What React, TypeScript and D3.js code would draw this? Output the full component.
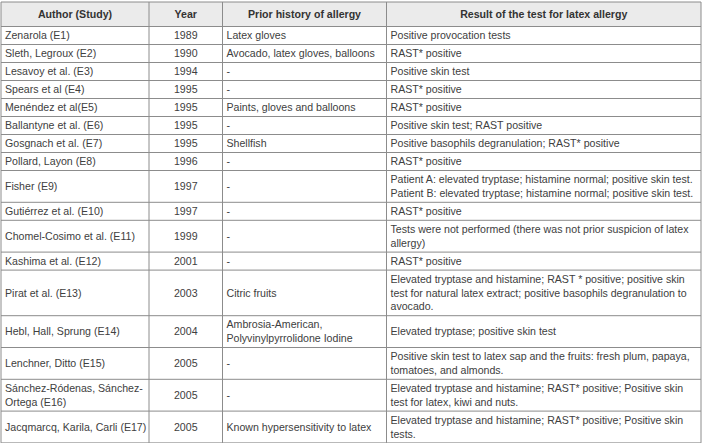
import React from "react";
import * as d3 from "d3";

const headers = ["Author (Study)", "Year", "Prior history of allergy", "Result of the test for latex allergy"];

const authors: string[][] = [
  ["Zenarola (E1)"],
  ["Sleth, Legroux (E2)"],
  ["Lesavoy et al. (E3)"],
  ["Spears et al (E4)"],
  ["Menéndez et al(E5)"],
  ["Ballantyne et al. (E6)"],
  ["Gosgnach et al. (E7)"],
  ["Pollard, Layon (E8)"],
  ["Fisher (E9)"],
  ["Gutiérrez et al. (E10)"],
  ["Chomel-Cosimo et al. (E11)"],
  ["Kashima et al. (E12)"],
  ["Pirat et al. (E13)"],
  ["Hebl, Hall, Sprung (E14)"],
  ["Lenchner, Ditto (E15)"],
  ["Sánchez-Ródenas, Sánchez-", "Ortega (E16)"],
  ["Jacqmarcq, Karila, Carli (E17)"],
];

const years = ["1989", "1990", "1994", "1995", "1995", "1995", "1995", "1996", "1997", "1997", "1999", "2001", "2003", "2004", "2005", "2005", "2005"];

const priorHistory: string[][] = [
  ["Latex gloves"],
  ["Avocado, latex gloves, balloons"],
  ["-"],
  ["-"],
  ["Paints, gloves and balloons"],
  ["-"],
  ["Shellfish"],
  ["-"],
  ["-"],
  ["-"],
  ["-"],
  ["-"],
  ["Citric fruits"],
  ["Ambrosia-American,", "Polyvinylpyrrolidone Iodine"],
  ["-"],
  ["-"],
  ["Known hypersensitivity to latex"],
];

const results: string[][] = [
  ["Positive provocation tests"],
  ["RAST* positive"],
  ["Positive skin test"],
  ["RAST* positive"],
  ["RAST* positive"],
  ["Positive skin test; RAST positive"],
  ["Positive basophils degranulation; RAST* positive"],
  ["RAST* positive"],
  ["Patient A: elevated tryptase; histamine normal; positive skin test.", "Patient B: elevated tryptase; histamine normal; positive skin test."],
  ["RAST* positive"],
  ["Tests were not performed (there was not prior suspicion of latex", "allergy)"],
  ["RAST* positive"],
  ["Elevated tryptase and histamine; RAST * positive; positive skin", "test for natural latex extract; positive basophils degranulation to", "avocado."],
  ["Elevated tryptase; positive skin test"],
  ["Positive skin test to latex sap and the fruits: fresh plum, papaya,", "tomatoes, and almonds."],
  ["Elevated tryptase and histamine; RAST* positive; Positive skin", "test for latex, kiwi and nuts."],
  ["Elevated tryptase and histamine; RAST* positive; Positive skin", "tests."],
];

const W = 704;
const H = 443;
const colEdges = [1, 149, 222.5, 386.5, 701];
const top = 2;
const headerH = 24.5;
const lineH = 13.8;
const pad = 4.2;
const FS = 10.6;
const FONT = "'Liberation Sans', Arial, sans-serif";

export default function App() {
  const nLines = authors.map((_, i) =>
    Math.max(authors[i].length, priorHistory[i].length, results[i].length, 1)
  );
  const heights = nLines.map((n) => n * lineH + pad);
  const cum = Array.from(d3.cumsum(heights));
  const rowTop = heights.map((_, i) => top + headerH + (i === 0 ? 0 : cum[i - 1]));
  const bottom = top + headerH + cum[cum.length - 1];

  const cols = [
    { data: authors, align: "start" },
    { data: years.map((y) => [y]), align: "middle" },
    { data: priorHistory, align: "start" },
    { data: results, align: "start" },
  ];

  const gridColor = "#8c8c8c";
  const textColor = "#404040";

  return (
    <svg width={W} height={H} style={{ position: "absolute", left: 0, top: 0, background: "#fff" }}>
      <rect x={colEdges[0]} y={top} width={colEdges[4] - colEdges[0]} height={headerH} fill="#ebebeb" />
      {headers.map((h, c) => (
        <text
          key={"h" + c}
          x={(colEdges[c] + colEdges[c + 1]) / 2}
          y={top + headerH / 2}
          dy="0.35em"
          textAnchor="middle"
          fontFamily={FONT}
          fontSize={FS}
          fontWeight="bold"
          fill="#333"
        >
          {h}
        </text>
      ))}
      {rowTop.map((ry, r) =>
        cols.map((col, c) => {
          const lines = col.data[r];
          const cy = ry + heights[r] / 2;
          const x0 = col.align === "middle" ? (colEdges[c] + colEdges[c + 1]) / 2 : colEdges[c] + 4;
          return lines.map((ln, k) => (
            <text
              key={`t${r}-${c}-${k}`}
              x={x0}
              y={cy + (k - (lines.length - 1) / 2) * lineH}
              dy="0.35em"
              textAnchor={col.align}
              fontFamily={FONT}
              fontSize={FS}
              fill={textColor}
            >
              {ln}
            </text>
          ));
        })
      )}
      {rowTop.map((ry, r) => (
        <line key={"hl" + r} x1={colEdges[0]} x2={colEdges[4]} y1={ry} y2={ry} stroke={gridColor} strokeWidth={1} />
      ))}
      <line x1={colEdges[0]} x2={colEdges[4]} y1={top} y2={top} stroke={gridColor} />
      <line x1={colEdges[0]} x2={colEdges[4]} y1={bottom} y2={bottom} stroke={gridColor} />
      {colEdges.map((x, i) => (
        <line key={"vl" + i} x1={x} x2={x} y1={top} y2={bottom} stroke={gridColor} strokeWidth={1} />
      ))}
    </svg>
  );
}
